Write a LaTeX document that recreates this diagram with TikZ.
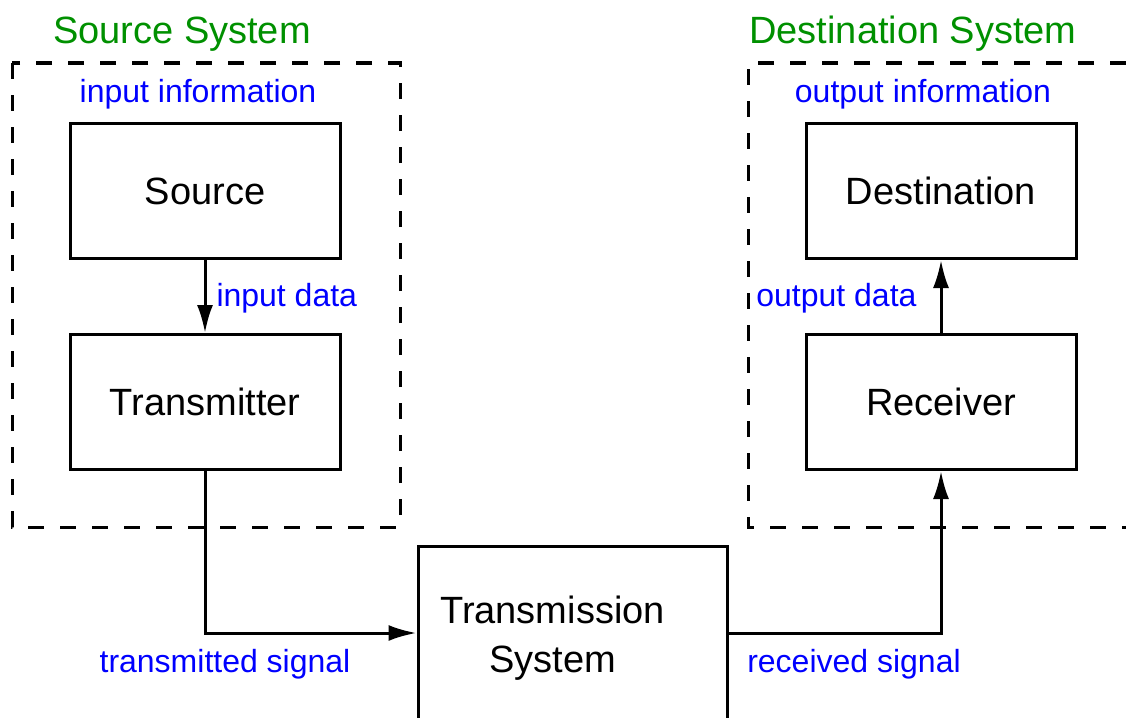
\documentclass[tikz,border=0pt]{standalone}
\usepackage{fontspec}
\setmainfont{Liberation Sans}
\usetikzlibrary{arrows.meta}
\definecolor{sysgreen}{RGB}{0,144,0}

\begin{document}
\begin{tikzpicture}[x=1pt,y=-1pt,line width=3pt,
    blk/.style={draw,minimum width=270pt,minimum height=135pt,inner sep=0pt,
      font=\fontsize{38}{49}\selectfont},
    lbl/.style={text=blue,inner sep=0pt,font=\fontsize{32}{38}\selectfont},
    sys/.style={text=sysgreen,inner sep=0pt,font=\fontsize{38}{46}\selectfont},
    arr/.style={-{Latex[length=28pt,width=16pt]}},
    dsh/.style={dash pattern=on 16pt off 16pt}]
  \useasboundingbox (0,0) rectangle (1126,717);
  \clip (0,0) rectangle (1126,717);
  % system frames
  \draw[dsh] (12,63) rectangle (400,527);
  \draw[dsh] (1126,63) -- (748,63) -- (748,527) -- (1126,527);
  \node[sys] (srcsys) at (182,34) {Source System};
  \node[sys] (dstsys) at (913,34) {Destination System};
  % blocks
  \node[blk] (src) at (205,191) {Source};
  \node[blk] (tx) at (205,402) {Transmitter};
  \node[blk] (dst) at (941,191) {Destination};
  \node[blk] (rx) at (941,402) {Receiver};
  \node[blk,minimum width=309pt,minimum height=174pt,
    label={[align=center,xshift=-20pt,yshift=-5pt,font=\fontsize{38}{49}\selectfont]center:Transmission\\System}]
    (tsys) at (572.5,633) {};
  % labels
  \node[lbl] (ininfo) at (198,94) {input information};
  \node[lbl,anchor=west] (indata) at (215,298) {input data};
  \node[lbl] (outinfo) at (923,94) {output information};
  \node[lbl,anchor=east] (outdata) at (918,298) {output data};
  \node[lbl] (txsig) at (225,664) {transmitted signal};
  \node[lbl] (rxsig) at (854,664) {received signal};
  % connectors
  \draw[arr] (src) -- (tx);
  \draw[arr] (tx.south) |- (tsys.west);
  \draw[arr] (tsys.east) -| (rx.south);
  \draw[arr] (rx) -- (dst);
\end{tikzpicture}
\end{document}
